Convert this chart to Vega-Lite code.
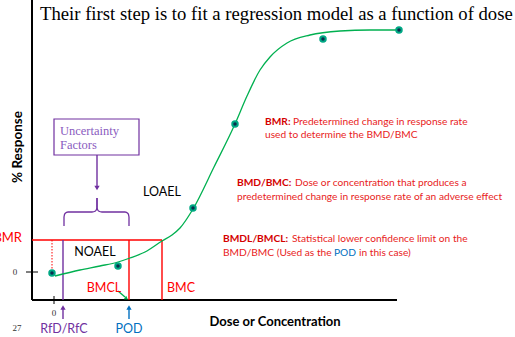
{
  "$schema": "https://vega.github.io/schema/vega-lite/v6.json",
  "width": 515,
  "height": 337,
  "padding": 0,
  "autosize": {"type": "none"},
  "config": {"view": {"stroke": null}},
  "datasets": {
    "segments": [
      {"seg": "yAxis", "x": 32, "y": 0, "x2": 32, "y2": 300, "role": "axis"},
      {"seg": "xAxis", "x": 32, "y": 300, "x2": 397, "y2": 300, "role": "axis"},
      {"seg": "yZeroTick", "x": 26, "y": 272, "x2": 38, "y2": 272, "role": "tick"},
      {"seg": "xZeroTick", "x": 54, "y": 296, "x2": 54, "y2": 304, "role": "tick"},
      {"seg": "bmr", "x": 32, "y": 240, "x2": 162, "y2": 240, "role": "threshold"},
      {"seg": "bmcl", "x": 129, "y": 240, "x2": 129, "y2": 300, "role": "threshold"},
      {"seg": "bmc", "x": 162, "y": 240, "x2": 162, "y2": 300, "role": "threshold"},
      {"seg": "bmrDrop", "x": 52, "y": 240, "x2": 52, "y2": 271, "role": "threshold"},
      {"seg": "rfd", "x": 63, "y": 240, "x2": 63, "y2": 300, "role": "uf"},
      {"seg": "ufArrow", "x": 97, "y": 155, "x2": 97, "y2": 186, "role": "uf"},
      {"seg": "rfdArrow", "x": 63, "y": 319, "x2": 63, "y2": 309, "role": "uf"},
      {"seg": "podArrow", "x": 129, "y": 319, "x2": 129, "y2": 309, "role": "pod"},
      {"seg": "bmclArrow", "x": 118, "y": 291, "x2": 125, "y2": 297, "role": "fit"}
    ],
    "heads": [
      {"seg": "ufArrow", "x": 97, "y": 188, "role": "uf", "dir": "down"},
      {"seg": "rfdArrow", "x": 63, "y": 307.5, "role": "uf", "dir": "up"},
      {"seg": "podArrow", "x": 129, "y": 307.5, "role": "pod", "dir": "up"},
      {"seg": "bmclArrow", "x": 126.5, "y": 298.5, "role": "fit", "dir": "diag"}
    ],
    "box": [{"x": 54, "y": 119, "x2": 139, "y2": 155}],
    "brace": [
      {"side": "left", "ord": 1, "x": 97, "y": 198},
      {"side": "left", "ord": 2, "x": 97, "y": 208},
      {"side": "left", "ord": 3, "x": 95.5, "y": 211},
      {"side": "left", "ord": 4, "x": 92, "y": 212},
      {"side": "left", "ord": 5, "x": 68, "y": 212},
      {"side": "left", "ord": 6, "x": 65, "y": 213.5},
      {"side": "left", "ord": 7, "x": 64, "y": 217},
      {"side": "left", "ord": 8, "x": 64, "y": 226},
      {"side": "right", "ord": 1, "x": 97, "y": 198},
      {"side": "right", "ord": 2, "x": 97, "y": 208},
      {"side": "right", "ord": 3, "x": 98.5, "y": 211},
      {"side": "right", "ord": 4, "x": 102, "y": 212},
      {"side": "right", "ord": 5, "x": 125, "y": 212},
      {"side": "right", "ord": 6, "x": 128, "y": 213.5},
      {"side": "right", "ord": 7, "x": 129, "y": 217},
      {"side": "right", "ord": 8, "x": 129, "y": 226}
    ],
    "fit": [
      {"x": 55, "y": 276}, {"x": 80, "y": 270}, {"x": 100, "y": 266}, {"x": 118, "y": 262},
      {"x": 130, "y": 258}, {"x": 145, "y": 252}, {"x": 162, "y": 241}, {"x": 172, "y": 235},
      {"x": 180, "y": 228}, {"x": 193, "y": 209}, {"x": 214, "y": 167}, {"x": 235, "y": 124},
      {"x": 247, "y": 96}, {"x": 260, "y": 70}, {"x": 270, "y": 57}, {"x": 287, "y": 43},
      {"x": 310, "y": 35}, {"x": 340, "y": 31}, {"x": 370, "y": 30}, {"x": 400, "y": 30}
    ],
    "observed": [
      {"x": 52, "y": 273}, {"x": 118, "y": 266}, {"x": 193, "y": 208},
      {"x": 235, "y": 124}, {"x": 323, "y": 39}, {"x": 399, "y": 30}
    ],
    "title": [{"x": 40, "y": 20, "text": "Their first step is to fit a regression model as a function of dose"}],
    "labels": [
      {"x": 95, "y": 252, "text": "NOAEL", "role": "label"},
      {"x": 162, "y": 192, "text": "LOAEL", "role": "label"},
      {"x": 104, "y": 288, "text": "BMCL", "role": "threshold"},
      {"x": 181, "y": 288, "text": "BMC", "role": "threshold"},
      {"x": 64, "y": 329, "text": "RfD/RfC", "role": "uf"},
      {"x": 129, "y": 329, "text": "POD", "role": "pod"}
    ],
    "bmrLabel": [{"x": 22, "y": 238, "text": "BMR", "role": "threshold"}],
    "small": [
      {"x": 15, "y": 272, "text": "0"},
      {"x": 54, "y": 313, "text": "0"},
      {"x": 17, "y": 328, "text": "27"}
    ],
    "axisTitles": [
      {"x": 275, "y": 322, "text": "Dose or Concentration"}
    ],
    "yTitle": [{"x": 18, "y": 147, "text": "% Response"}],
    "uf": [
      {"x": 60, "y": 131, "text": "Uncertainty"},
      {"x": 60, "y": 145, "text": "Factors"}
    ],
    "defs": [
      {"x": 265, "y": 122, "text": "BMR:", "part": "term"},
      {"x": 293, "y": 122, "text": "Predetermined change in response rate", "part": "desc"},
      {"x": 265, "y": 135, "text": "used to determine the BMD/BMC", "part": "desc"},
      {"x": 237, "y": 183, "text": "BMD/BMC:", "part": "term"},
      {"x": 295, "y": 183, "text": "Dose or concentration that produces a", "part": "desc"},
      {"x": 237, "y": 197, "text": "predetermined change in response rate of an adverse effect", "part": "desc"},
      {"x": 223, "y": 239, "text": "BMDL/BMCL:", "part": "term"},
      {"x": 292, "y": 239, "text": "Statistical lower confidence limit on the", "part": "desc"},
      {"x": 223, "y": 253, "text": "BMD/BMC (Used as the", "part": "desc"},
      {"x": 334, "y": 253, "text": "POD", "part": "pod"},
      {"x": 359, "y": 253, "text": "in this case)", "part": "desc"}
    ]
  },
  "encoding": {
    "x": {"field": "x", "type": "quantitative", "scale": {"domain": [0, 515], "nice": false, "zero": false}, "axis": null},
    "y": {"field": "y", "type": "quantitative", "scale": {"domain": [0, 337], "nice": false, "zero": false, "reverse": true}, "axis": null}
  },
  "layer": [
    {
      "data": {"name": "box"},
      "mark": {"type": "rect", "filled": false, "color": "#7030a0", "strokeWidth": 1.2},
      "encoding": {"x2": {"field": "x2"}, "y2": {"field": "y2"}}
    },
    {
      "data": {"name": "segments"},
      "transform": [{"filter": "datum.role == 'axis'"}],
      "mark": {"type": "rule", "color": "#000000", "strokeWidth": 2},
      "encoding": {"x2": {"field": "x2"}, "y2": {"field": "y2"}}
    },
    {
      "data": {"name": "segments"},
      "transform": [{"filter": "datum.role == 'tick'"}],
      "mark": {"type": "rule", "color": "#000000", "strokeWidth": 1},
      "encoding": {"x2": {"field": "x2"}, "y2": {"field": "y2"}}
    },
    {
      "data": {"name": "segments"},
      "transform": [{"filter": "datum.role != 'axis' && datum.role != 'tick' && datum.seg != 'bmrDrop'"}],
      "mark": {"type": "rule", "strokeWidth": 1.4},
      "encoding": {
        "x2": {"field": "x2"}, "y2": {"field": "y2"},
        "color": {"field": "role", "type": "nominal", "legend": null,
          "scale": {"domain": ["threshold", "uf", "pod", "fit", "label"], "range": ["#ff0000", "#7030a0", "#0070c0", "#00b050", "#000000"]}}
      }
    },
    {
      "data": {"name": "segments"},
      "transform": [{"filter": "datum.seg == 'bmrDrop'"}],
      "mark": {"type": "rule", "color": "#ff0000", "strokeWidth": 1, "strokeDash": [1.5, 1.5]},
      "encoding": {"x2": {"field": "x2"}, "y2": {"field": "y2"}}
    },
    {
      "data": {"name": "brace"},
      "mark": {"type": "line", "color": "#7030a0", "strokeWidth": 1.3, "interpolate": "monotone"},
      "encoding": {"detail": {"field": "side"}, "order": {"field": "ord", "type": "quantitative"}}
    },
    {
      "data": {"name": "heads"},
      "transform": [{"filter": "datum.dir != 'diag'"}],
      "mark": {"type": "point", "filled": true, "size": 28, "opacity": 1},
      "encoding": {
        "shape": {"field": "dir", "type": "nominal", "legend": null, "scale": {"domain": ["down", "up"], "range": ["triangle-down", "triangle-up"]}},
        "color": {"field": "role", "type": "nominal", "legend": null,
          "scale": {"domain": ["threshold", "uf", "pod", "fit", "label"], "range": ["#ff0000", "#7030a0", "#0070c0", "#00b050", "#000000"]}}
      }
    },
    {
      "data": {"name": "heads"},
      "transform": [{"filter": "datum.dir == 'diag'"}],
      "mark": {"type": "point", "filled": true, "shape": "triangle-up", "angle": 125, "size": 18, "color": "#00b050", "opacity": 1},
      "encoding": {}
    },
    {
      "data": {"name": "fit"},
      "mark": {"type": "line", "color": "#00b050", "strokeWidth": 1.3, "interpolate": "monotone"},
      "encoding": {}
    },
    {
      "data": {"name": "observed"},
      "mark": {"type": "point", "filled": true, "size": 30, "fill": "#0a2d4d", "stroke": "#00a884", "strokeWidth": 2, "opacity": 1},
      "encoding": {}
    },
    {
      "data": {"name": "title"},
      "mark": {"type": "text", "align": "left", "baseline": "alphabetic", "font": "Liberation Serif", "fontSize": 18.7, "color": "#000000"},
      "encoding": {"text": {"field": "text"}}
    },
    {
      "data": {"name": "labels"},
      "mark": {"type": "text", "align": "center", "baseline": "middle", "font": "Lato", "fontSize": 12.5},
      "encoding": {
        "text": {"field": "text"},
        "color": {"field": "role", "type": "nominal", "legend": null,
          "scale": {"domain": ["threshold", "uf", "pod", "fit", "label"], "range": ["#ff0000", "#7030a0", "#0070c0", "#00b050", "#000000"]}}
      }
    },
    {
      "data": {"name": "bmrLabel"},
      "mark": {"type": "text", "align": "right", "baseline": "middle", "font": "Lato", "fontSize": 13, "color": "#ff0000"},
      "encoding": {"text": {"field": "text"}}
    },
    {
      "data": {"name": "small"},
      "mark": {"type": "text", "align": "center", "baseline": "middle", "font": "Liberation Serif", "fontSize": 9, "color": "#333333"},
      "encoding": {"text": {"field": "text"}}
    },
    {
      "data": {"name": "axisTitles"},
      "mark": {"type": "text", "align": "center", "baseline": "middle", "font": "Lato", "fontWeight": "bold", "fontSize": 13, "color": "#000000"},
      "encoding": {"text": {"field": "text"}}
    },
    {
      "data": {"name": "yTitle"},
      "mark": {"type": "text", "align": "center", "baseline": "middle", "angle": 270, "font": "Lato", "fontWeight": "bold", "fontSize": 13.5, "color": "#000000"},
      "encoding": {"text": {"field": "text"}}
    },
    {
      "data": {"name": "uf"},
      "mark": {"type": "text", "align": "left", "baseline": "middle", "font": "Liberation Serif", "fontSize": 12.5, "color": "#8a5cc0"},
      "encoding": {"text": {"field": "text"}}
    },
    {
      "data": {"name": "defs"},
      "transform": [{"filter": "datum.part == 'term'"}],
      "mark": {"type": "text", "align": "left", "baseline": "middle", "font": "Lato", "fontWeight": "bold", "fontSize": 10.2, "color": "#d40000"},
      "encoding": {"text": {"field": "text"}}
    },
    {
      "data": {"name": "defs"},
      "transform": [{"filter": "datum.part == 'desc'"}],
      "mark": {"type": "text", "align": "left", "baseline": "middle", "font": "Lato", "fontSize": 10.2, "color": "#e81c1c"},
      "encoding": {"text": {"field": "text"}}
    },
    {
      "data": {"name": "defs"},
      "transform": [{"filter": "datum.part == 'pod'"}],
      "mark": {"type": "text", "align": "left", "baseline": "middle", "font": "Lato", "fontSize": 10.2, "color": "#0070c0"},
      "encoding": {"text": {"field": "text"}}
    }
  ]
}
